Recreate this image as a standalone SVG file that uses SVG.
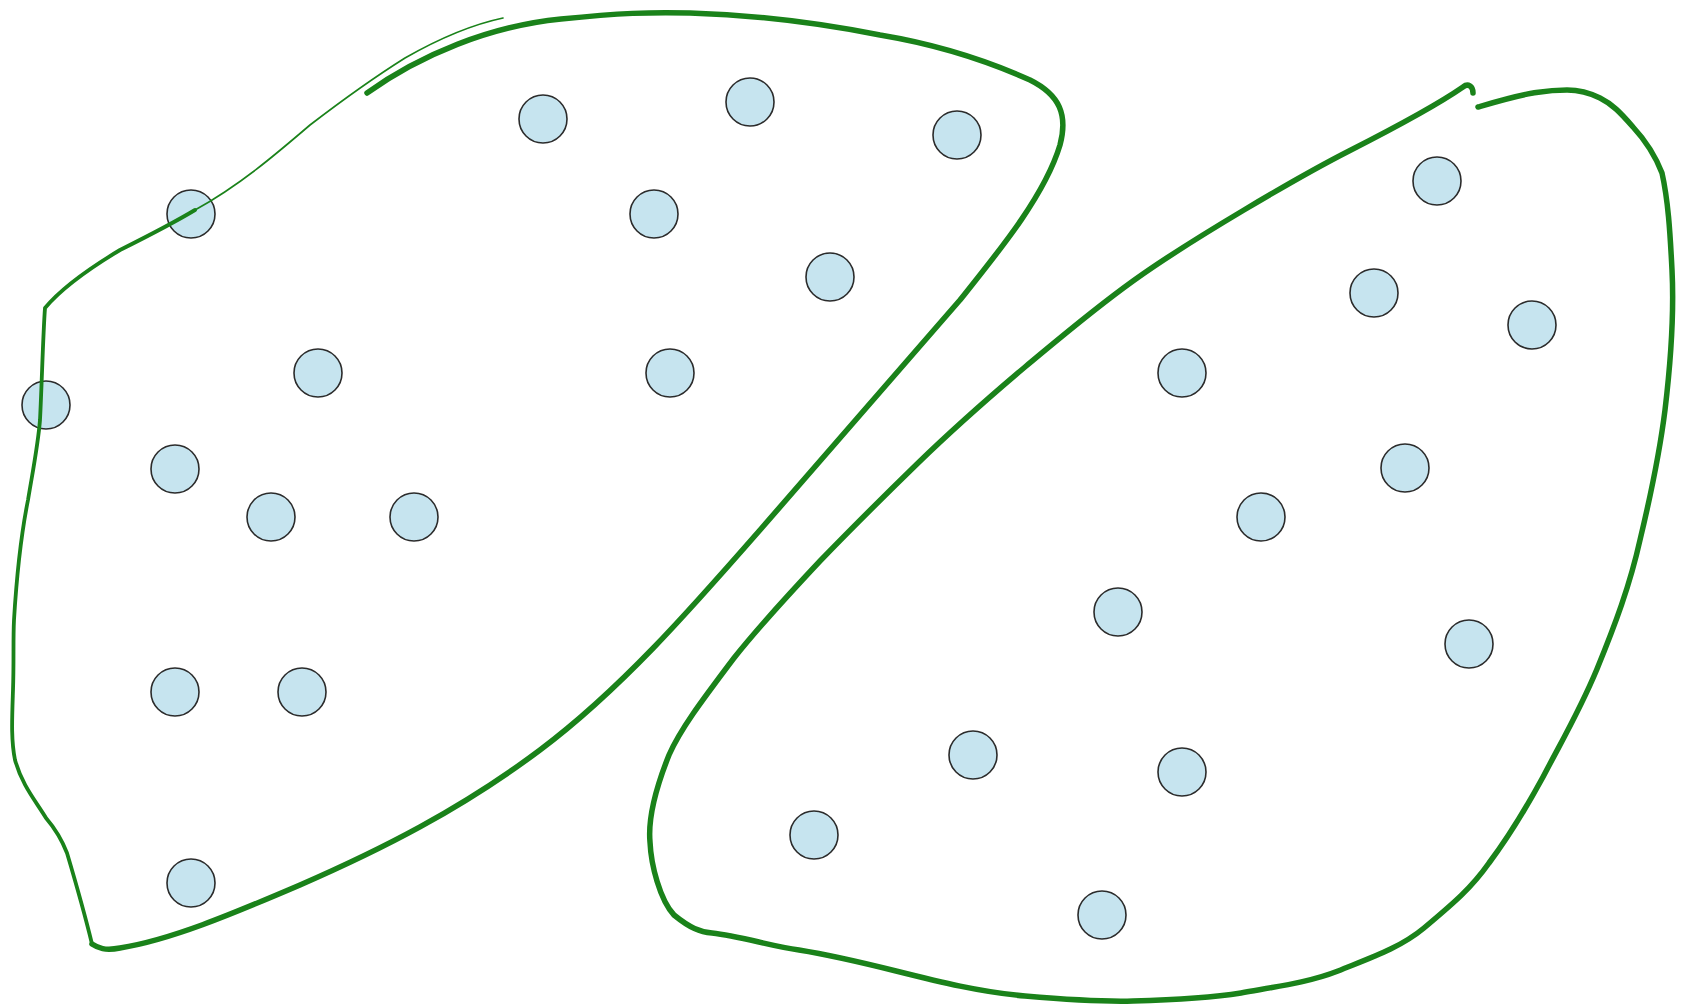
<svg xmlns="http://www.w3.org/2000/svg" width="1692" height="1008" viewBox="0 0 1692 1008">
<style>
.n{fill:#c6e4ef;stroke:#2b2b2b;stroke-width:1.6}
.b{fill:none;stroke:#1a821a;stroke-linecap:round;stroke-linejoin:round}
</style>
<rect width="1692" height="1008" fill="#ffffff"/>
<g id="nodes">
<g id="n1"><circle class="n" cx="543" cy="119" r="24"/></g>
<g id="n2"><circle class="n" cx="750" cy="102" r="24"/></g>
<g id="n3"><circle class="n" cx="957" cy="135" r="24"/></g>
<g id="n4"><circle class="n" cx="191" cy="214" r="24"/></g>
<g id="n5"><circle class="n" cx="654" cy="214" r="24"/></g>
<g id="n6"><circle class="n" cx="830" cy="277" r="24"/></g>
<g id="n7"><circle class="n" cx="318" cy="373" r="24"/></g>
<g id="n8"><circle class="n" cx="670" cy="373" r="24"/></g>
<g id="n9"><circle class="n" cx="46" cy="405" r="24"/></g>
<g id="n10"><circle class="n" cx="175" cy="469" r="24"/></g>
<g id="n11"><circle class="n" cx="271" cy="517" r="24"/></g>
<g id="n12"><circle class="n" cx="414" cy="517" r="24"/></g>
<g id="n13"><circle class="n" cx="175" cy="692" r="24"/></g>
<g id="n14"><circle class="n" cx="302" cy="692" r="24"/></g>
<g id="n15"><circle class="n" cx="191" cy="883" r="24"/></g>
<g id="n16"><circle class="n" cx="1437" cy="181" r="24"/></g>
<g id="n17"><circle class="n" cx="1374" cy="293" r="24"/></g>
<g id="n18"><circle class="n" cx="1532" cy="325" r="24"/></g>
<g id="n19"><circle class="n" cx="1182" cy="373" r="24"/></g>
<g id="n20"><circle class="n" cx="1405" cy="468" r="24"/></g>
<g id="n21"><circle class="n" cx="1261" cy="517" r="24"/></g>
<g id="n22"><circle class="n" cx="1118" cy="612" r="24"/></g>
<g id="n23"><circle class="n" cx="1469" cy="644" r="24"/></g>
<g id="n24"><circle class="n" cx="973" cy="755" r="24"/></g>
<g id="n25"><circle class="n" cx="1182" cy="772" r="24"/></g>
<g id="n26"><circle class="n" cx="814" cy="835" r="24"/></g>
<g id="n27"><circle class="n" cx="1102" cy="915" r="24"/></g>
</g>
<g id="connectors">
<path class="b" stroke-width="5.5" d="M367,93 C420,55 490,26 561,19 C620,13 650,12 690,13 C760,15 830,25 880,35 C940,45 990,62 1030,80 C1060,95 1068,115 1060,145 C1045,195 1000,250 960,300 C900,370 830,450 760,530 C690,610 620,690 540,750 C460,810 380,850 300,885 C230,915 170,940 120,948 C105,951 98,948 92,944"/>
<path class="b" stroke-width="3.8" d="M92,944 C85,915 75,880 67,853 C60,835 52,825 46,818 C35,800 22,785 15,760 C11,740 12,720 13,690 C14,660 13,640 14,620 C17,570 22,530 28,500 C33,470 38,445 40,420 C42,380 43,335 45,308 C60,290 90,268 120,250 C150,235 175,222 195,210"/>
<path class="b" stroke-width="1.7" d="M195,210 C240,185 275,155 310,125 C340,102 370,80 405,58 C440,38 470,25 503,18"/>
<path class="b" stroke-width="5.5" d="M1473,93 C1473,86 1468,83 1463,87 C1440,103 1400,125 1349,151 C1300,176 1190,240 1133,281 C1090,312 1060,338 1025,367 C980,405 950,432 917,464 C880,500 850,530 820,561 C790,593 760,625 734,658 C700,703 680,730 669,755 C655,790 648,820 650,842 C651,865 660,900 674,915 C690,928 700,932 712,933 C740,936 770,946 799,950 C830,955 860,962 896,971 C940,982 980,992 1025,996 C1060,999 1100,1002 1133,1001 C1170,1000 1210,998 1241,993 C1280,986 1310,982 1338,971 C1370,958 1400,948 1424,928 C1450,906 1470,890 1489,863 C1510,835 1525,810 1543,777 C1565,735 1580,710 1597,669 C1615,625 1630,585 1640,540 C1652,490 1660,450 1665,410 C1671,360 1674,310 1672,270 C1670,230 1668,200 1662,173 C1655,155 1645,140 1633,127 C1620,112 1612,104 1600,98 C1590,93 1580,90 1567,90 C1550,90 1540,92 1533,93 C1515,96 1495,102 1478,107"/>
</g>
</svg>
